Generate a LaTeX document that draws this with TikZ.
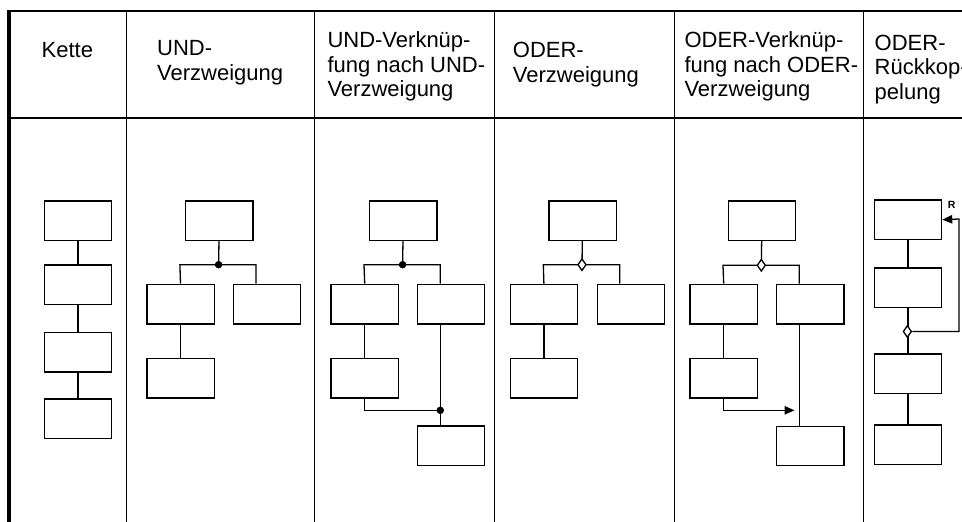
\documentclass[tikz,border=0pt]{standalone}
\usepackage{fontspec}
\setmainfont{Liberation Sans}
\usetikzlibrary{arrows.meta,shapes.geometric}
\begin{document}
\begin{tikzpicture}[x=1pt,y=-1pt,
  box/.style={draw,line width=1.3pt,minimum width=67.3pt,minimum height=39.5pt,inner sep=0pt,anchor=north west},
  conn/.style={line width=1.3pt},
  arr/.style={line width=1.3pt,-{Triangle[length=10pt,width=8.5pt]}},
  frame/.style={line width=2.5pt},
  divider/.style={line width=1.2pt},
  head/.style={anchor=base west,align=left,inner sep=0pt,font=\fontsize{22}{24.7}\selectfont},
  dot/.style={circle,fill=black,inner sep=0pt,minimum size=7.5pt},
  odia/.style={diamond,draw,fill=white,line width=1.3pt,inner sep=0pt,minimum width=8.5pt,minimum height=12pt}]
\useasboundingbox (0,0) rectangle (962,522);
% frame
\coordinate (tl) at (7.3,11.2);
\coordinate (tr) at (962,11.2);
\coordinate (hl) at (7.3,118.2);
\coordinate (hr) at (962,118.2);
\coordinate (lt) at (9.3,9.9);
\coordinate (lb) at (9.3,522);
\draw[frame] (tl) -- (tr);
\draw[frame] (hl) -- (hr);
\draw[line width=4pt] (lt) -- (lb);
\foreach \x/\n in {126.3/a,314.3/b,494.3/c,674.7/d,863.3/e}{
  \coordinate (d\n t) at (\x,11.2);
  \coordinate (d\n b) at (\x,522);
  \draw[divider] (d\n t) -- (d\n b);
}
% headers (anchored at the baseline of the last line)
\node[head] (h1) at (41.5,57.7) {Kette};
\node[head] (h2) at (157,80) {UND-\\Verzweigung};
\node[head] (h3) at (327.3,96.7) {UND-Verknüp-\\fung nach UND-\\Verzweigung};
\node[head] (h4) at (512.7,82) {ODER-\\Verzweigung};
\node[head] (h5) at (684.3,96.7) {ODER-Verknüp-\\fung nach ODER-\\Verzweigung};
\node[head] (h6) at (874.5,99.4) {ODER-\\Rückkop-\\pelung};
% column 1: Kette
\node[box] (k1) at (43.7,200.3) {};
\node[box] (k2) at (43.7,264.3) {};
\node[box] (k3) at (43.7,331.7) {};
\node[box] (k4) at (43.7,398.3) {};
\draw[conn] (k1) -- (k2);
\draw[conn] (k2) -- (k3);
\draw[conn] (k3) -- (k4);
% column 2: UND-Verzweigung
\node[box] (t2) at (185,200.3) {};
\node[box] (l2) at (146.2,283.7) {};
\node[box] (r2) at (232.7,283.7) {};
\node[box] (ll2) at (146.2,357.7) {};
\coordinate (j2) at (218.6,264.7);
\coordinate (j2l) at (179.9,264.7);
\coordinate (j2r) at (256,264.7);
\draw[conn] (t2) -- (j2);
\draw[conn] (l2.north) -- (j2l) -- (j2r) -- (j2r |- r2.north);
\draw[conn] (l2) -- (ll2);
\node[dot] (p2) at (j2) {};
% column 3: UND-Verknuepfung
\node[box] (t3) at (369,200.3) {};
\node[box] (l3) at (330.4,283.7) {};
\node[box] (r3) at (416.7,283.7) {};
\node[box] (ll3) at (330.4,357.7) {};
\node[box] (b3) at (416.7,425.3) {};
\coordinate (j3) at (402.6,264.7);
\coordinate (j3l) at (364,264.7);
\coordinate (j3r) at (440.3,264.7);
\coordinate (j3b) at (440.3,410.3);
\draw[conn] (t3) -- (j3);
\draw[conn] (l3.north) -- (j3l) -- (j3r) -- (j3r |- r3.north);
\draw[conn] (l3) -- (ll3);
\draw[conn] (ll3.south) |- (j3b);
\draw[conn] (j3r |- r3.south) -- (j3r |- b3.north);
\node[dot] (p3) at (j3) {};
\node[dot] (p3b) at (j3b) {};
% column 4: ODER-Verzweigung
\node[box] (t4) at (548.3,200.3) {};
\node[box] (l4) at (509.6,283.7) {};
\node[box] (r4) at (596.7,283.7) {};
\node[box] (ll4) at (509.6,357.7) {};
\coordinate (j4) at (582,264.7);
\coordinate (j4l) at (543.3,264.7);
\coordinate (j4r) at (619.7,264.7);
\draw[conn] (t4) -- (j4);
\draw[conn] (l4.north) -- (j4l) -- (j4r) -- (j4r |- r4.north);
\draw[conn] (l4) -- (ll4);
\node[odia] (q4) at (j4) {};
% column 5: ODER-Verknuepfung
\node[box] (t5) at (727.7,200.3) {};
\node[box] (l5) at (689.4,283.7) {};
\node[box] (r5) at (776,283.7) {};
\node[box] (ll5) at (689.4,357.7) {};
\node[box] (b5) at (776,425.5) {};
\coordinate (j5) at (761.3,265.3);
\coordinate (j5l) at (723,265.3);
\coordinate (j5r) at (799.3,265.3);
\coordinate (a5) at (794.5,410.3);
\draw[conn] (t5) -- (j5);
\draw[conn] (l5.north) -- (j5l) -- (j5r) -- (j5r |- r5.north);
\draw[conn] (l5) -- (ll5);
\draw[arr] (ll5.south) |- (a5);
\draw[conn] (j5r |- r5.south) -- (j5r |- b5.north);
\node[odia] (q5) at (j5) {};
% column 6: ODER-Rueckkopplung
\node[box] (f1) at (873.7,199.3) {};
\node[box] (f2) at (873.7,267.3) {};
\node[box] (f3) at (873.7,353.3) {};
\node[box] (f4) at (873.7,424.3) {};
\coordinate (fb) at (959,219);
\draw[conn] (f1) -- (f2);
\draw[conn] (f2) -- (f3);
\draw[conn] (f3) -- (f4);
\node[odia] (q6) at (907.35,331.5) {};
\draw[arr] (q6.east) -| (fb) -- (f1.east);
\node[font=\fontsize{10.5}{12}\selectfont\bfseries,inner sep=0pt] (rl) at (951.7,205) {R};
\end{tikzpicture}
\end{document}
